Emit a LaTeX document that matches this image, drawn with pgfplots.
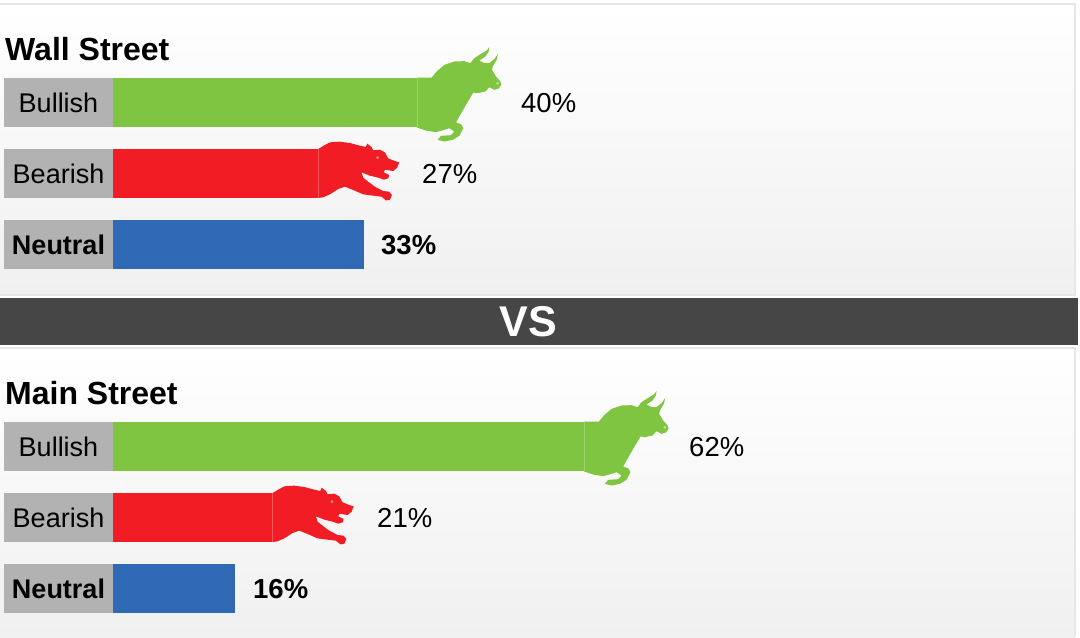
\documentclass[border=0pt]{standalone}
\usepackage{pgfplots}
\usepackage{pgfplotstable}
\usepackage{fontspec}
\setmainfont{Liberation Sans}
\pgfplotsset{compat=1.18}
\definecolor{bullgreen}{HTML}{7FC542}
\definecolor{bearred}{HTML}{F21C24}
\definecolor{neutralblue}{HTML}{2F69B5}
\definecolor{labelgray}{HTML}{B2B2B2}
\definecolor{bandgray}{HTML}{464646}
\definecolor{panelborder}{HTML}{E6E6E6}
\definecolor{panelbottom}{HTML}{F0F0F0}
\pgfplotstableread{
dx dy
0 -25
14.67 -25
19.67 -31
27.33 -37.67
37.33 -41
47.33 -41.33
53.33 -39.33
57.33 -44.33
64 -48.67
69.67 -52
72.33 -55.33
71.67 -51
68.33 -46
62.33 -42
67.33 -39.33
72.33 -39.33
77.33 -43.33
81 -48.67
79.67 -42.67
75.67 -36
75 -32.67
79 -26
83.33 -21
84.33 -17.67
81.67 -14
77.33 -12.67
72.33 -15.33
68.33 -11
60.67 -9.33
56.33 -10
49 2.33
42.33 14
39 20
44 21.67
46.33 25.67
42.33 33.33
35.67 37.33
27.33 39
20.67 37.33
24 33.33
34 32.67
37.33 29
32.33 25.67
27.33 27.33
19 29.67
9 28
0 25
}\bullshape
\pgfplotstableread{
dx dy
0 -24.5
5 -27.5
11.67 -31.17
21.67 -31.83
31.67 -30.5
41.67 -27.83
47.67 -26.5
49 -29.83
53.33 -26.5
55 -23.17
61.67 -23.83
66.67 -21.17
70 -15.17
76.67 -12.5
81 -11.17
79 -5.83
75 -2.5
66.67 -3.83
65.67 -1.17
71 1.5
70 4.83
65.67 6.17
60 4.17
51.67 2.17
43.33 -1.17
45 4.17
50 8.17
56.67 13.17
65 17.5
71 18.17
73.67 21.5
71.67 26.5
67.67 26.83
63.33 23.17
55 22.17
45 20.83
35 16.5
26.67 13.17
20 15.5
11.67 20.83
5 23.83
0 24.5
}\bearshape
\newcommand{\rowlabel}[3]{\node[anchor=base,font=\fontsize{27}{27}\selectfont#3,text=black] at (axis cs:-7.17,#2) {#1};}
\newcommand{\pct}[4]{\node[anchor=base west,inner sep=0pt,font=\fontsize{27.5}{27}\selectfont#4,text=black] at (axis cs:#1,#2) {#3};}
\pgfplotsset{hbar/.style={xbar,bar width=49pt,bar shift=0pt,fill=#1,draw=none,forget plot},
  silhouette/.style={no markers,fill=#1,draw=none,forget plot}}
\begin{document}
\begin{tikzpicture}
\begin{axis}[
  hide axis, scale only axis, width=1080pt, height=637pt,
  xmin=-14.8684, xmax=127.2368, ymin=0, ymax=637, y dir=reverse, clip=true]
% full-page extent
\path (rel axis cs:0,0) rectangle (rel axis cs:1,1);
% panels
\shade[top color=white,bottom color=panelbottom] (axis cs:-14.87,4) rectangle (axis cs:126.58,295);
\draw[panelborder,line width=1.5pt] (axis cs:-14.87,4) -- (axis cs:126.58,4) -- (axis cs:126.58,295) -- (axis cs:-14.87,295);
\shade[top color=white,bottom color=panelbottom] (axis cs:-14.87,348) rectangle (axis cs:126.58,637);
\draw[panelborder,line width=1.5pt] (axis cs:-14.87,348) -- (axis cs:126.58,348) -- (axis cs:126.58,636);
\fill[bandgray] (axis cs:-14.87,298) rectangle (axis cs:126.97,345);
\node[anchor=base,font=\fontsize{43}{43}\selectfont\bfseries,text=white] at (axis cs:54.61,336) {VS};
% titles
\node[anchor=base west,inner sep=0pt,font=\fontsize{32}{32}\selectfont\bfseries,text=black] at (axis cs:-14.21,60) {Wall Street};
\node[anchor=base west,inner sep=0pt,font=\fontsize{32}{32}\selectfont\bfseries,text=black] at (axis cs:-14.21,404) {Main Street};
% grey label boxes
\fill[labelgray] (axis cs:-14.34,78) rectangle (axis cs:0,127);
\fill[labelgray] (axis cs:-14.34,149) rectangle (axis cs:0,198);
\fill[labelgray] (axis cs:-14.34,220) rectangle (axis cs:0,269);
\fill[labelgray] (axis cs:-14.34,422) rectangle (axis cs:0,471);
\fill[labelgray] (axis cs:-14.34,493) rectangle (axis cs:0,542);
\fill[labelgray] (axis cs:-14.34,564) rectangle (axis cs:0,613);
% bars
\addplot[hbar=bullgreen] coordinates {(40,102.5)};
\addplot[hbar=bearred] coordinates {(27,173.5)};
\addplot[hbar=neutralblue] coordinates {(33,244.5)};
\addplot[hbar=bullgreen] coordinates {(62,446.5)};
\addplot[hbar=bearred] coordinates {(21,517.5)};
\addplot[hbar=neutralblue] coordinates {(16,588.5)};
% silhouettes on the ends of the bars
\addplot[silhouette=bullgreen] table[x expr=\thisrow{dx}/7.6+40,y expr=\thisrow{dy}+102.5] {\bullshape} -- cycle;
\addplot[silhouette=bearred] table[x expr=\thisrow{dx}/7.6+27,y expr=\thisrow{dy}+173.5] {\bearshape} -- cycle;
\addplot[silhouette=bullgreen] table[x expr=\thisrow{dx}/7.6+62,y expr=\thisrow{dy}+446.5] {\bullshape} -- cycle;
\addplot[silhouette=bearred] table[x expr=\thisrow{dx}/7.6+21,y expr=\thisrow{dy}+517.5] {\bearshape} -- cycle;
% seams and eyes
\draw[bullgreen!75!white,line width=0.5pt] (axis cs:40,78) -- (axis cs:40,127);
\draw[bearred!75!white,line width=0.5pt] (axis cs:27,149) -- (axis cs:27,198);
\draw[bullgreen!75!white,line width=0.5pt] (axis cs:62,422) -- (axis cs:62,471);
\draw[bearred!75!white,line width=0.5pt] (axis cs:21,493) -- (axis cs:21,542);
\addplot[only marks,mark=*,mark size=1.2pt,color=bullgreen!55!white,forget plot] coordinates {(50.61,83.2) (72.61,427.2)};
\addplot[only marks,mark=*,mark size=1.3pt,color=bearred!55!white,forget plot] coordinates {(34.81,157.7) (28.81,501.7)};
% row labels
\rowlabel{Bullish}{112.5}{}
\rowlabel{Bearish}{183.5}{}
\rowlabel{Neutral}{254.5}{\bfseries}
\rowlabel{Bullish}{456.5}{}
\rowlabel{Bearish}{527.5}{}
\rowlabel{Neutral}{598.5}{\bfseries}
% values
\pct{53.68}{112}{40\%}{}
\pct{40.66}{183}{27\%}{}
\pct{35.26}{254}{33\%}{\bfseries}
\pct{75.79}{456}{62\%}{}
\pct{34.74}{527}{21\%}{}
\pct{18.42}{598}{16\%}{\bfseries}
\end{axis}
\end{tikzpicture}
\end{document}
